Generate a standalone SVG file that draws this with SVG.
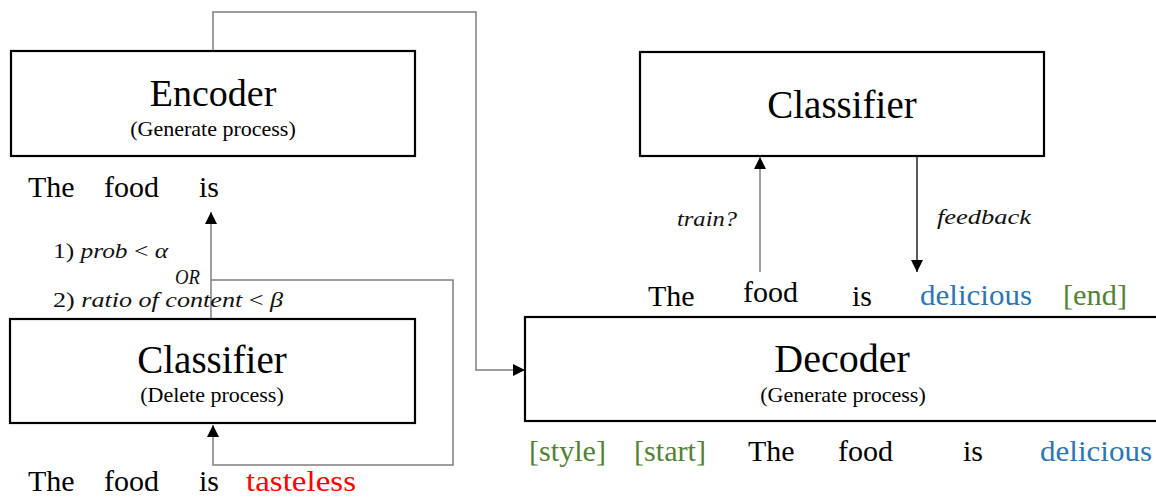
<svg xmlns="http://www.w3.org/2000/svg" width="1156" height="497" viewBox="0 0 1156 497">
<style>
.box{fill:#fff;stroke:#000;stroke-width:2.2}
.t{font-family:"Liberation Serif","Times New Roman",serif;fill:#000}
.title{font-size:39px;text-anchor:middle}
.sub{font-size:22px;text-anchor:middle}
.w{font-size:30px}
.m{font-family:"Liberation Serif","Times New Roman",serif;font-size:21px;fill:#111}
.i{font-style:italic}
.con{fill:none;stroke:#7f7f7f;stroke-width:1.5}
.conk{fill:none;stroke:#000;stroke-width:1.3}
.red{fill:#ff0000}
.blue{fill:#2e75b6}
.green{fill:#548235}
</style>
<defs>
<marker id="ah" viewBox="0 0 12 12" refX="12" refY="6" markerWidth="12" markerHeight="12" markerUnits="userSpaceOnUse" orient="auto">
<path d="M0,0 L12,6 L0,12 z" fill="#000"/>
</marker>
</defs>
<rect width="1156" height="497" fill="#fff"/>

<g id="connectors">
<polyline class="con" points="213,51 213,12 476,12 476,370 525,370" marker-end="url(#ah)"/>
<line class="con" x1="211" y1="319" x2="211" y2="212" marker-end="url(#ah)"/>
<polyline class="con" points="211,280 453,280 453,465 213,465 213,425" marker-end="url(#ah)"/>
<line class="con" x1="760" y1="272" x2="760" y2="157" marker-end="url(#ah)"/>
<line class="conk" x1="917" y1="157" x2="917" y2="272" marker-end="url(#ah)"/>
</g>

<g id="encoder">
<rect class="box" x="11" y="51" width="404" height="105"/>
<text class="t title" x="213" y="106" style="font-size:38px">Encoder</text>
<text class="t sub" x="213" y="136">(Generate process)</text>
</g>

<g id="classifier-delete">
<rect class="box" x="10" y="319" width="405" height="104"/>
<text class="t title" x="212" y="373">Classifier</text>
<text class="t sub" x="212" y="402">(Delete process)</text>
</g>

<g id="classifier-right">
<rect class="box" x="640" y="52" width="404" height="104"/>
<text class="t title" x="842" y="118">Classifier</text>
</g>

<g id="decoder">
<rect class="box" x="525" y="317" width="640" height="104"/>
<text class="t title" x="842" y="372" style="font-size:40px">Decoder</text>
<text class="t sub" x="843" y="402">(Generate process)</text>
</g>

<g id="encoder-output">
<text class="t w" x="28" y="197">The</text>
<text class="t w" x="104" y="197">food</text>
<text class="t w" x="199" y="197">is</text>
</g>

<g id="delete-input">
<text class="t w" x="28" y="491">The</text>
<text class="t w" x="104" y="491">food</text>
<text class="t w" x="199" y="491">is</text>
<text class="t w red" x="246" y="491" textLength="110" lengthAdjust="spacingAndGlyphs">tasteless</text>
</g>

<g id="conditions">
<text class="m" x="53" y="258" textLength="115" lengthAdjust="spacingAndGlyphs">1) <tspan class="i">prob</tspan> &lt; <tspan class="i">α</tspan></text>
<text class="m i" x="175" y="284" textLength="25" lengthAdjust="spacingAndGlyphs">OR</text>
<text class="m" x="53" y="307" textLength="230" lengthAdjust="spacingAndGlyphs">2) <tspan class="i">ratio of content</tspan> &lt; <tspan class="i">β</tspan></text>
</g>

<g id="arrow-labels">
<text class="m i" x="677" y="226" textLength="60" lengthAdjust="spacingAndGlyphs">train?</text>
<text class="m i" x="937" y="224" textLength="94" lengthAdjust="spacingAndGlyphs">feedback</text>
</g>

<g id="decoder-output">
<text class="t w" x="648" y="306">The</text>
<text class="t w" x="743" y="302">food</text>
<text class="t w" x="852" y="306">is</text>
<text class="t w blue" x="920" y="305" textLength="112" lengthAdjust="spacingAndGlyphs">delicious</text>
<text class="t w green" x="1063" y="305" textLength="64" lengthAdjust="spacingAndGlyphs">[end]</text>
</g>

<g id="decoder-input">
<text class="t w green" x="529" y="461" textLength="77" lengthAdjust="spacingAndGlyphs">[style]</text>
<text class="t w green" x="634" y="461" textLength="72" lengthAdjust="spacingAndGlyphs">[start]</text>
<text class="t w" x="748" y="461">The</text>
<text class="t w" x="838" y="461">food</text>
<text class="t w" x="963" y="461">is</text>
<text class="t w blue" x="1040" y="461" textLength="112" lengthAdjust="spacingAndGlyphs">delicious</text>
</g>
</svg>
